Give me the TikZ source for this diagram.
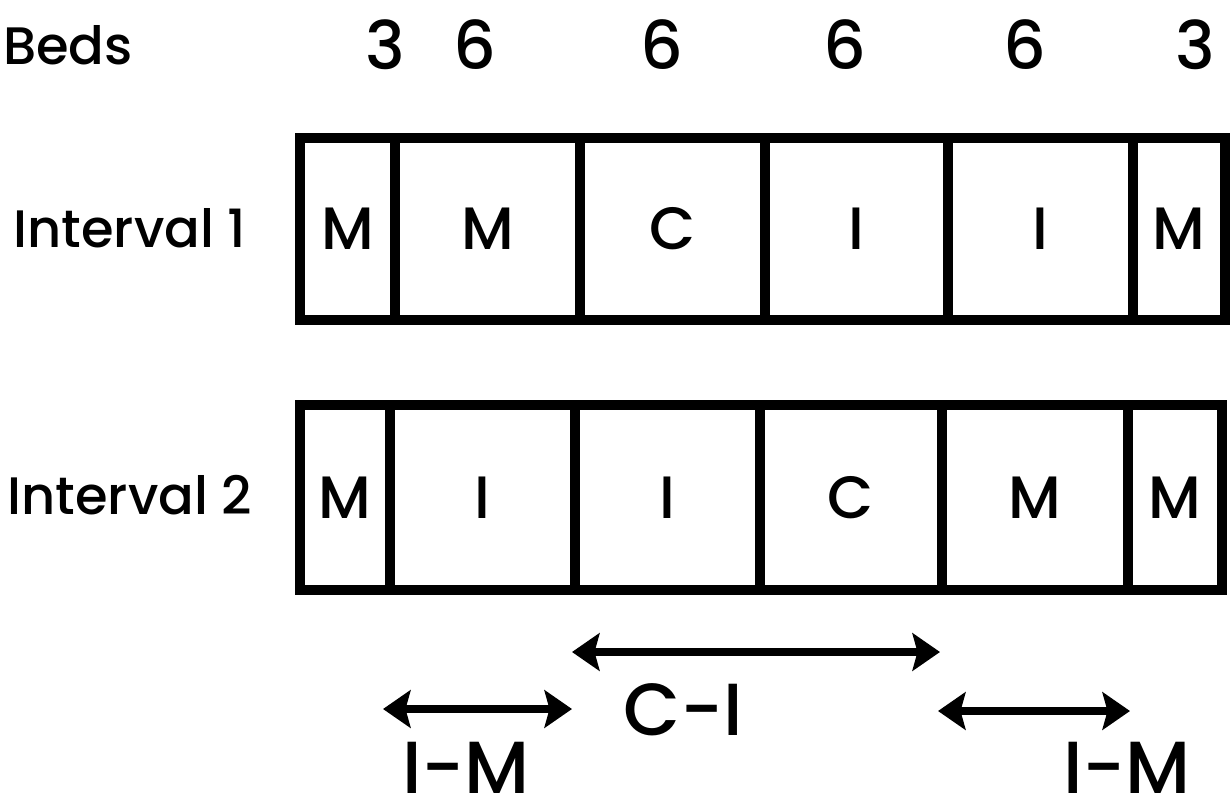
\documentclass[tikz,border=0pt]{standalone}
\usepackage{fontspec}
\setmainfont{Poppins}[UprightFont=* Medium]
\usetikzlibrary{arrows.meta}

\begin{document}
\begin{tikzpicture}[
        x=0.2mm, y=-0.2mm,
        cell/.style={draw, line width=5.5pt, inner sep=0pt, font=\fontsize{34}{34}\selectfont},
        toprow/.style={cell, minimum height=36.4mm},
        botrow/.style={cell, minimum height=37mm},
        lbl/.style={font=\fontsize{30}{30}\selectfont},
        num/.style={font=\fontsize{38}{38}\selectfont},
        big/.style={inner sep=0pt, font=\fontsize{42}{42}\selectfont},
        span/.style={{Stealth[length=5.5mm, width=7.5mm, inset=1mm]}-{Stealth[length=5.5mm, width=7.5mm, inset=1mm]}, line width=4pt}
    ]
    \useasboundingbox (0,0) rectangle (1230,809);
    % bed counts
    \node[lbl] (beds) at (68,45) {Beds};
    \node[num] (b1) at (385,45) {3};
    \node[num] (b2) at (475,45) {6};
    \node[num] (b3) at (662,45) {6};
    \node[num] (b4) at (845,45) {6};
    \node[num] (b5) at (1025,45) {6};
    \node[num] (b6) at (1195,45) {3};
    % interval 1
    \node[lbl] (int1) at (130,228) {Interval 1};
    \node[toprow, minimum width=19mm] (p1) at (347.5,229) {M};
    \node[toprow, minimum width=37mm] (p2) at (487.5,229) {M};
    \node[toprow, minimum width=37mm] (p3) at (672.5,229) {C};
    \node[toprow, minimum width=36.6mm] (p4) at (856.5,229) {I};
    \node[toprow, minimum width=37mm] (p5) at (1040.5,229) {I};
    \node[toprow, minimum width=18.4mm] (p6) at (1179,229) {M};
    % interval 2
    \node[lbl] (int2) at (130,495) {Interval 2};
    \node[botrow, minimum width=18mm] (q1) at (345,497.5) {M};
    \node[botrow, minimum width=37mm] (q2) at (482.5,497.5) {I};
    \node[botrow, minimum width=37mm] (q3) at (667.5,497.5) {I};
    \node[botrow, minimum width=36.4mm] (q4) at (851,497.5) {C};
    \node[botrow, minimum width=37.2mm] (q5) at (1035,497.5) {M};
    \node[botrow, minimum width=18.8mm] (q6) at (1175,497.5) {M};
    % transitions
    \coordinate (ci1) at (572,652);
    \coordinate (ci2) at (940,652);
    \coordinate (im1) at (383,709);
    \coordinate (im2) at (572,709);
    \coordinate (im3) at (938,711);
    \coordinate (im4) at (1130,711);
    \draw[span] (ci1) -- (ci2);
    \draw[span] (im1) -- (im2);
    \draw[span] (im3) -- (im4);
    \node[big] (ci) at (683,710) {C-I};
    \node[big] (ima) at (466,768) {I-M};
    \node[big] (imb) at (1127,768) {I-M};
\end{tikzpicture}
\end{document}
